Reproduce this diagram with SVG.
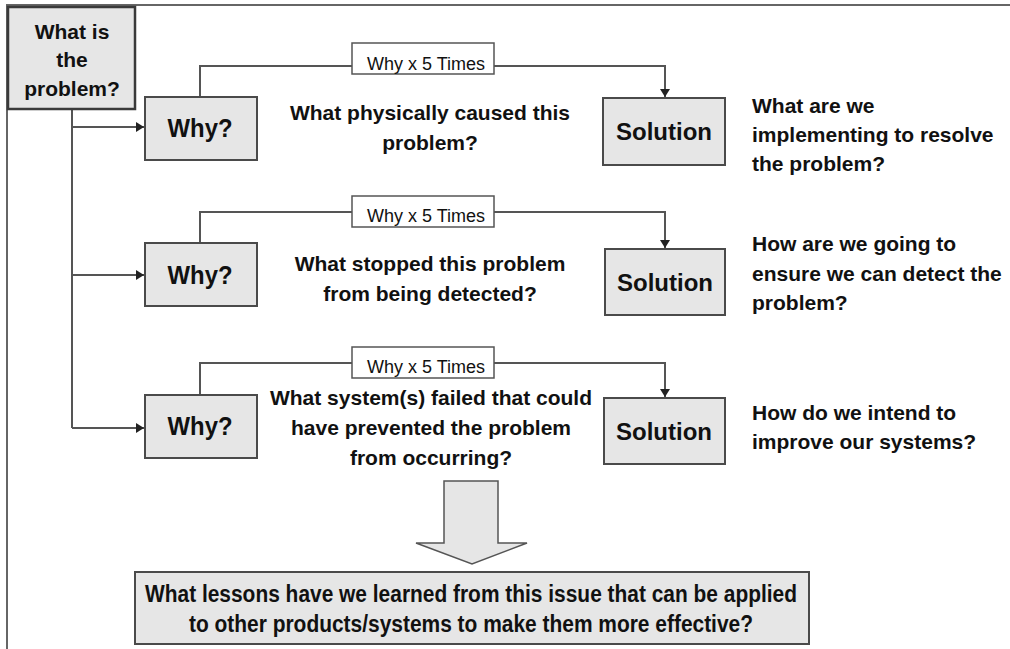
<svg xmlns="http://www.w3.org/2000/svg" width="1010" height="649" viewBox="0 0 1010 649">
<defs>
<marker id="ah" viewBox="0 0 10 10" refX="10" refY="5" markerWidth="8" markerHeight="10" orient="auto" markerUnits="userSpaceOnUse" preserveAspectRatio="none">
<path d="M0,0 L10,5 L0,10 z" fill="#222"/>
</marker>
<style>
.box{fill:#e6e6e6;stroke:#4a4a4a;stroke-width:2}
.lbl{fill:#fff;stroke:#555;stroke-width:1.5}
.ln{fill:none;stroke:#555;stroke-width:2}
.t{font-family:"Liberation Sans",Arial,sans-serif;font-weight:bold;fill:#111}
.big{font-size:24px;text-anchor:middle}
.why{font-size:25px;text-anchor:middle}
.mid{font-size:21px;text-anchor:middle}
.side{font-size:21px}
.w5{font-family:"Liberation Sans",Arial,sans-serif;font-size:18px;fill:#111;text-anchor:middle}
</style>
</defs>
<rect width="1010" height="649" fill="#fff"/>
<g id="frame">
<path d="M7,649 V5 H1010" fill="none" stroke="#666" stroke-width="2"/>
</g>
<g id="connectors">
<path class="ln" d="M72,109 V428"/>
<path class="ln" d="M72,127 H144" marker-end="url(#ah)"/>
<path class="ln" d="M72,275 H144" marker-end="url(#ah)"/>
<path class="ln" d="M72,428 H144" marker-end="url(#ah)"/>
<path class="ln" d="M200,97 V66 H665 V97" marker-end="url(#ah)"/>
<path class="ln" d="M200,243 V212 H665 V248" marker-end="url(#ah)"/>
<path class="ln" d="M200,395 V363 H665 V397" marker-end="url(#ah)"/>
</g>
<g id="problem">
<rect x="8" y="7" width="127" height="102" fill="#e6e6e6" stroke="#3a3a3a" stroke-width="2.5"/>
<text class="t mid" x="72" y="39">What is</text>
<text class="t mid" x="72" y="67">the</text>
<text class="t mid" x="72" y="96">problem?</text>
</g>
<g id="why1"><rect class="box" x="145" y="97" width="112" height="63"/><text class="t why" x="200" y="137" textLength="65" lengthAdjust="spacingAndGlyphs">Why?</text></g>
<g id="why2"><rect class="box" x="145" y="243" width="112" height="63"/><text class="t why" x="200" y="284" textLength="65" lengthAdjust="spacingAndGlyphs">Why?</text></g>
<g id="why3"><rect class="box" x="145" y="395" width="112" height="63"/><text class="t why" x="200" y="435" textLength="65" lengthAdjust="spacingAndGlyphs">Why?</text></g>
<g id="lbl1"><rect class="lbl" x="352" y="43" width="142" height="31"/><text class="w5" x="426" y="70">Why x 5 Times</text></g>
<g id="lbl2"><rect class="lbl" x="352" y="196" width="142" height="31"/><text class="w5" x="426" y="222">Why x 5 Times</text></g>
<g id="lbl3"><rect class="lbl" x="352" y="347" width="142" height="31"/><text class="w5" x="426" y="373">Why x 5 Times</text></g>
<g id="q1">
<text class="t mid" x="430" y="120">What physically caused this</text>
<text class="t mid" x="430" y="150">problem?</text>
</g>
<g id="q2">
<text class="t mid" x="430" y="271">What stopped this problem</text>
<text class="t mid" x="430" y="301">from being detected?</text>
</g>
<g id="q3">
<text class="t mid" x="431" y="405">What system(s) failed that could</text>
<text class="t mid" x="431" y="435">have prevented the problem</text>
<text class="t mid" x="431" y="465">from occurring?</text>
</g>
<g id="sol1"><rect class="box" x="603" y="98" width="122" height="67"/><text class="t big" x="664" y="140">Solution</text></g>
<g id="sol2"><rect class="box" x="605" y="249" width="120" height="66"/><text class="t big" x="665" y="291">Solution</text></g>
<g id="sol3"><rect class="box" x="604" y="398" width="121" height="66"/><text class="t big" x="664" y="440">Solution</text></g>
<g id="a1">
<text class="t side" x="752" y="113">What are we</text>
<text class="t side" x="752" y="142">implementing to resolve</text>
<text class="t side" x="752" y="171">the problem?</text>
</g>
<g id="a2">
<text class="t side" x="752" y="251">How are we going to</text>
<text class="t side" x="752" y="281">ensure we can detect the</text>
<text class="t side" x="752" y="310">problem?</text>
</g>
<g id="a3">
<text class="t side" x="752" y="420">How do we intend to</text>
<text class="t side" x="752" y="449">improve our systems?</text>
</g>
<g id="bigarrow">
<path d="M444,481 H498 V543 H527 L472,564 L416,543 H444 Z" fill="#e6e6e6" stroke="#555" stroke-width="1.5"/>
</g>
<g id="lessons">
<rect class="box" x="135" y="572" width="674" height="72"/>
<text class="t" x="471" y="602" font-size="23" text-anchor="middle" textLength="652" lengthAdjust="spacingAndGlyphs">What lessons have we learned from this issue that can be applied</text>
<text class="t" x="471" y="632" font-size="23" text-anchor="middle" textLength="564" lengthAdjust="spacingAndGlyphs">to other products/systems to make them more effective?</text>
</g>
</svg>
